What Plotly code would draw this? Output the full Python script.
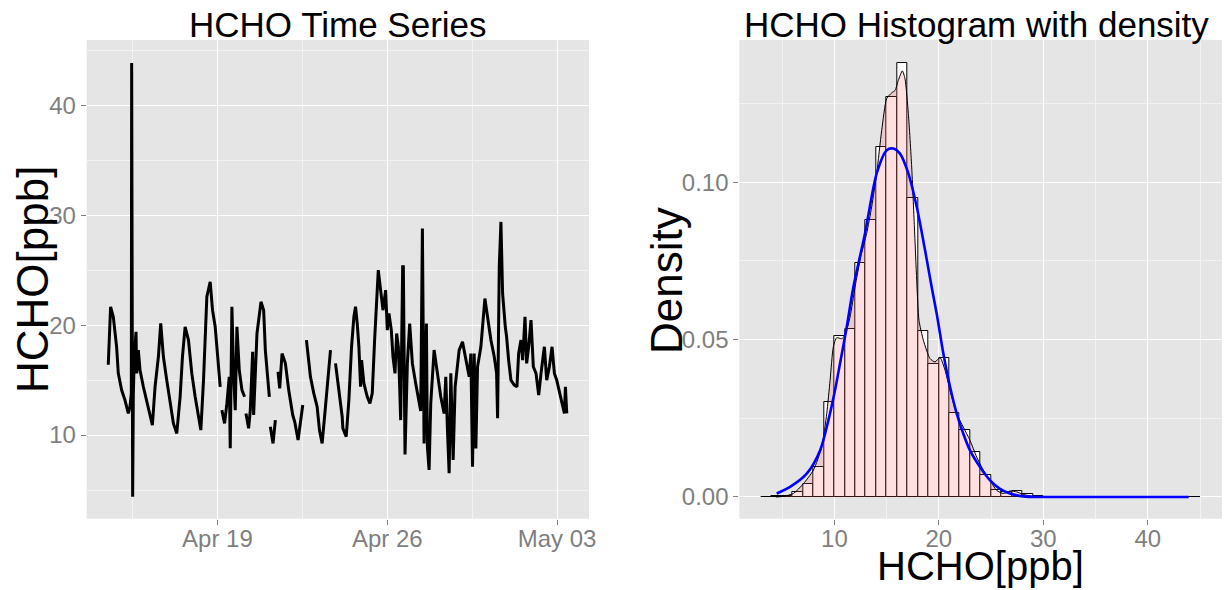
import pandas as pd
import plotly.graph_objects as go

# ---------------- Time series data (hours since 2015-04-14 12:00, HCHO ppb) -------------
ts_start = "2015-04-14 12:00"
ts_hours = [0.0, 2.31, 4.96, 8.26, 9.92, 13.22, 16.53, 19.84, 21.49, 22.81, 23.14, 23.47, 24.13,
            24.80, 25.79, 27.44, 28.10, 29.75, 31.41, 34.71, 38.02, 41.33, 43.64, 46.28, 49.59,
            51.90, 54.55, 57.85, 61.16, 64.46, 67.77, 71.08, 73.39, 76.04, 79.34, 82.65, 85.96,
            89.26, 91.58, 94.22, 95.87, 97.53, 100.83, 103.15, 105.79, 108.11, 110.75,
            111.5,
            112.4, 115.05, 117.36, 119.68, 120.67, 122.32, 123.98, 125.63, 127.28, 129.60, 132.24, 134.89,
            135.5,
            136.21, 138.85, 140.51, 142.82, 143.81, 147.12, 151.08, 153.73, 155.38, 159.35,
            159.8,
            160.34, 162.99, 165.30,
            166.5,
            167.94, 169.60, 171.91, 175.22, 178.52, 182.49, 184.47, 187.78, 192.41,
            194.0,
            196.05, 200.01, 203.32, 206.63, 208.94, 211.58, 214.89, 218.20, 219.85,
            222.0,
            224.81, 228.11, 231.42, 232.08, 235.39, 238.03, 240.68, 242.99, 244.64, 246.30, 247.95,
            249.60, 250.60, 252.91, 256.22, 258.86, 261.17, 263.49, 265.14, 267.13, 269.44, 271.76,
            274.40, 276.05, 277.70, 280.02, 281.67, 283.65, 285.31, 286.96, 288.28, 289.27, 291.26,
            291.92, 293.57, 295.89, 298.20, 300.85, 304.15, 307.46, 309.11, 310.77, 312.42, 314.73,
            315.72, 317.38, 319.03, 322.34, 325.64, 328.95, 332.25, 333.91, 335.56, 337.21, 338.87,
            341.18, 343.16, 345.48, 347.13, 350.44, 353.74, 357.05, 358.70, 360.36, 362.01, 363.66,
            365.32, 368.62, 372.59, 375.24, 378.54, 381.85, 384.16, 385.15, 386.80, 388.46, 390.11,
            392.76, 394.08, 396.06, 398.37, 401.68, 404.32, 405.98, 408.29, 409.94, 412.26, 413.91,
            415.89, 418.21, 420.52, 423.17, 425.81, 428.12, 431.43, 433.75, 436.39, 439.04, 441.35,
            443.67, 446.31, 448.96, 451.27, 452.26, 453.58]
ts_values = [16.4, 21.67, 20.76, 18.03, 15.61, 14.09, 13.18, 11.97, 12.58, 13.79, 43.85, 18.64, 4.39,
             13.79, 17.12, 19.39, 15.61, 17.73, 15.91, 14.39, 13.18, 11.97, 10.91, 14.39, 17.12,
             20.15, 17.12, 15.0, 12.88, 11.06, 10.15, 13.48, 17.12, 19.85, 18.64, 15.61, 13.48,
             11.67, 10.45, 15.0, 19.24, 22.58, 23.94, 21.36, 19.85, 17.12, 14.39,
             None,
             12.27, 11.06, 12.88, 15.30, 8.79, 21.67, 15.61, 12.27, 19.85, 15.91, 14.09, 13.48,
             None,
             11.97, 10.61, 12.27, 17.58, 11.82, 19.24, 22.12, 21.36, 17.73, 13.48,
             None,
             10.76, 9.24, 11.36,
             None,
             15.76, 14.24, 17.42, 16.52, 14.09, 11.82, 11.21, 9.55, 12.73,
             None,
             18.64, 15.30, 13.79, 12.58, 10.45, 9.24, 12.58, 15.91, 17.73,
             None,
             16.52, 14.09, 11.67, 10.61, 9.85, 13.18, 18.03, 20.76, 21.67, 20.15, 18.03,
             14.39, 16.82, 14.70, 13.48, 12.88, 13.79, 18.64, 21.97, 25.0, 23.18, 21.36,
             23.18, 19.55, 21.06, 19.55, 17.12, 15.61, 19.24, 18.03, 14.39, 11.36, 25.30,
             25.30, 8.24, 16.52, 20.15, 16.52, 14.70, 12.88, 12.18, 28.79, 9.24, 20.15,
             8.94, 6.82, 12.88, 17.73, 15.61, 13.48, 11.97, 15.30, 10.45, 6.52, 15.61,
             7.73, 14.39, 16.52, 17.73, 18.48, 16.82, 15.30, 17.42, 7.12, 17.42, 8.79,
             16.21, 18.03, 22.42, 20.76, 18.64, 17.12, 15.61, 11.52, 25.30, 29.39, 22.88,
             19.85, 18.94, 16.82, 15.0, 14.55, 14.39, 17.42, 18.64, 16.82, 20.76, 16.52,
             18.03, 20.45, 16.21, 15.61, 13.64, 15.61, 18.03, 15.0, 16.21, 18.03, 15.61,
             15.0, 13.79, 12.88, 11.97, 14.39, 11.97]

ts_ticks = ["2015-04-19", "2015-04-26", "2015-05-03"]
ts_minor = ["2015-04-15 12:00", "2015-04-22 12:00", "2015-04-29 12:00"]
ts_yticks = [10, 20, 30, 40]
ts_yminor = [5, 15, 25, 35, 45]

# ---------------- Histogram data (bin left edges, density) ----------------
bin_left = list(range(3, 45))
bin_density = [0.0001, 0.0002, 0.0003, 0.0016, 0.0042, 0.0096, 0.0301, 0.0511, 0.0534, 0.0744,
               0.0881, 0.1112, 0.1271, 0.1380, 0.0950, 0.0527, 0.0421, 0.0443, 0.0268, 0.0214,
               0.0142, 0.0071, 0.0021, 0.0015, 0.0019, 0.0008, 0.0003, 0.0001, 0.0001, 0.0001,
               0.0001, 0.0001, 0.0001, 0.0001, 0.0001, 0.0001, 0.0001, 0.0001, 0.0001, 0.0001,
               0.0001, 0.0001]

kde_x = [4.4, 5.12, 6.08, 7.03, 7.99, 8.79, 9.27, 9.59, 9.90, 10.22, 10.70, 11.02, 11.50, 11.98,
         12.52, 13.09, 13.57, 14.05, 14.53, 15.01, 15.49, 15.81, 16.12, 16.51, 16.76, 17.08, 17.40,
         17.66, 17.88, 18.10, 18.52, 19.15, 19.63, 20.11, 20.59, 21.07, 21.71, 22.34, 22.98, 23.62,
         24.26, 24.90, 25.53, 26.17, 26.81, 27.45, 28.09, 29.04, 30.0, 35.0, 40.0, 43.9]
kde_y = [0.0, 0.0002, 0.0011, 0.0042, 0.0085, 0.0159, 0.0265, 0.0371, 0.0477, 0.0506, 0.0503,
         0.0514, 0.0572, 0.0667, 0.0763, 0.0837, 0.0922, 0.1028, 0.1165, 0.1266, 0.1284, 0.1292,
         0.1324, 0.1354, 0.1329, 0.1218, 0.1049, 0.0858, 0.0689, 0.0561, 0.0498, 0.0440, 0.0429,
         0.0443, 0.0403, 0.0339, 0.0265, 0.0222, 0.0180, 0.0127, 0.0085, 0.0053, 0.0021, 0.0011,
         0.0019, 0.0016, 0.0008, 0.0002, 0.0, 0.0, 0.0, 0.0]

norm_x = [4.48, 5.76, 7.35, 8.63, 9.43, 10.06, 10.54, 11.18, 11.82, 12.93, 14.05, 15.01, 15.65,
          16.28, 17.08, 17.88, 18.68, 19.31, 19.79, 20.43, 21.07, 21.71, 22.34, 22.98, 23.94,
          24.90, 25.85, 26.81, 28.09, 30.0, 35.0, 40.0, 43.9]
norm_y = [0.0011, 0.0032, 0.0074, 0.0148, 0.0244, 0.0339, 0.0424, 0.0540, 0.0667, 0.0837, 0.1028,
          0.1102, 0.1107, 0.1091, 0.1028, 0.0922, 0.0784, 0.0667, 0.0583, 0.0456, 0.0350, 0.0265,
          0.0201, 0.0148, 0.0095, 0.0053, 0.0026, 0.0011, 0.0002, 0.0, 0.0, 0.0, 0.0]

hist_xticks = [10, 20, 30, 40]
hist_xminor = [5, 15, 25, 35, 45]
hist_yticks = [0.0, 0.05, 0.10]
hist_yminor = [0.025, 0.075, 0.125]

# ---------------- Figure ----------------
W, H = 1227, 590
FONT = "Liberation Sans, Arial, Helvetica, sans-serif"
BG = "#E5E5E5"
TICKC = "#7F7F7F"

times = pd.Timestamp(ts_start) + pd.to_timedelta(ts_hours, unit="h")

fig = go.Figure()
fig.add_trace(go.Scatter(x=times, y=ts_values, mode="lines", connectgaps=False,
                         line=dict(color="black", width=3.0), xaxis="x", yaxis="y",
                         showlegend=False))

fig.add_trace(go.Bar(x=bin_left, y=bin_density, offset=0, width=1,
                     marker=dict(color="white", line=dict(color="black", width=1)),
                     xaxis="x2", yaxis="y2", showlegend=False))
fig.add_trace(go.Scatter(x=kde_x, y=kde_y, mode="lines", fill="tozeroy",
                         fillcolor="rgba(255,102,102,0.2)",
                         line=dict(color="black", width=1, shape="spline", smoothing=0.6),
                         xaxis="x2", yaxis="y2", showlegend=False))
fig.add_trace(go.Scatter(x=norm_x, y=norm_y, mode="lines",
                         line=dict(color="blue", width=2.6, shape="spline", smoothing=0.8),
                         xaxis="x2", yaxis="y2", showlegend=False))

def px_x(p):
    return p / W

def px_y(p):
    return (H - p) / H

ydom = [px_y(518.7), px_y(40)]

common = dict(showline=False, zeroline=False, ticks="outside", ticklen=5, tickwidth=1,
              tickcolor=TICKC, tickfont=dict(family=FONT, size=24, color=TICKC),
              gridcolor="white", gridwidth=1.4, automargin=False, showgrid=True)

fig.update_layout(
    width=W, height=H,
    margin=dict(l=0, r=0, t=0, b=0),
    paper_bgcolor="white", plot_bgcolor=BG,
    bargap=0,
    xaxis=dict(domain=[px_x(86.7), px_x(589)], type="date",
               range=["2015-04-13 14:40", "2015-05-04 07:35"],
               tickvals=ts_ticks, tickformat="%b %d", anchor="y", ticklabelstandoff=-7,
               minor=dict(tickvals=ts_minor, showgrid=True, gridcolor="#F2F2F2", gridwidth=0.7,
                          ticks=""),
               **common),
    yaxis=dict(domain=ydom, range=[2.39, 45.94], tickvals=ts_yticks, anchor="x",
               minor=dict(tickvals=ts_yminor, showgrid=True, gridcolor="#F2F2F2", gridwidth=0.7,
                          ticks=""),
               **common),
    xaxis2=dict(domain=[px_x(739.3), px_x(1222)], range=[0.9, 47.1], tickvals=hist_xticks,
                anchor="y2", ticklabelstandoff=-7,
                minor=dict(tickvals=hist_xminor, showgrid=True, gridcolor="#F2F2F2", gridwidth=0.7,
                           ticks=""),
                **common),
    yaxis2=dict(domain=ydom, range=[-0.0069, 0.1452], tickvals=hist_yticks, tickformat=".2f",
                anchor="x2",
                minor=dict(tickvals=hist_yminor, showgrid=True, gridcolor="#F2F2F2", gridwidth=0.7,
                           ticks=""),
                **common),
)

ann = []
ann.append(dict(text="HCHO Time Series", x=px_x(338), y=px_y(24), xref="paper", yref="paper",
                showarrow=False, xanchor="center", yanchor="middle",
                font=dict(family=FONT, size=35, color="black")))
ann.append(dict(text="HCHO Histogram with density", x=px_x(977), y=px_y(24), xref="paper",
                yref="paper", showarrow=False, xanchor="center", yanchor="middle",
                font=dict(family=FONT, size=35, color="black")))
ann.append(dict(text="HCHO[ppb]", x=px_x(32), y=px_y(280), xref="paper", yref="paper",
                showarrow=False, xanchor="center", yanchor="middle", textangle=-90,
                font=dict(family=FONT, size=44, color="black")))
ann.append(dict(text="Density", x=px_x(666), y=px_y(280), xref="paper", yref="paper",
                showarrow=False, xanchor="center", yanchor="middle", textangle=-90,
                font=dict(family=FONT, size=44, color="black")))
ann.append(dict(text="HCHO[ppb]", x=px_x(980), y=px_y(566), xref="paper", yref="paper",
                showarrow=False, xanchor="center", yanchor="middle",
                font=dict(family=FONT, size=40, color="black")))
fig.update_layout(annotations=ann)

fig.write_html("out.html", config={"displayModeBar": False},
               post_script="document.body.style.margin='0px';document.body.style.overflow='hidden';")
